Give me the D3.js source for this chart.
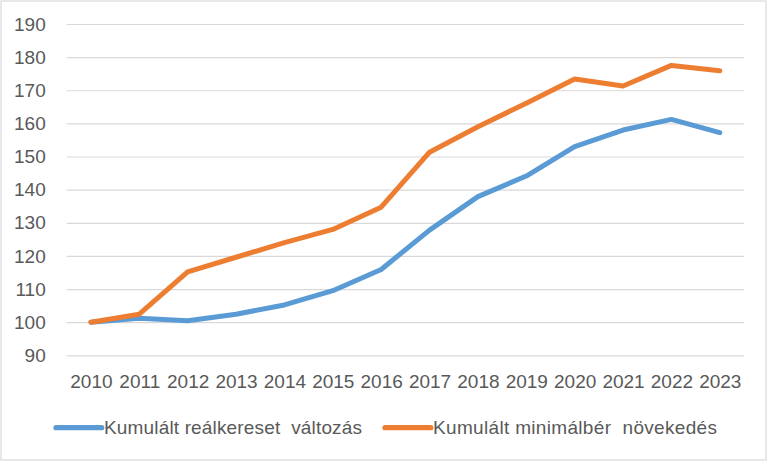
<!DOCTYPE html>
<html>
<head>
<meta charset="utf-8">
<script src="https://cdn.jsdelivr.net/npm/d3@7"></script>
<style>
  body { margin: 0; background: #fff; }
  text { font-family: "Liberation Sans", Arial, sans-serif; fill: #595959; }
</style>
</head>
<body>
<div id="chart"></div>
<script>
// data
var years = ["2010", "2011", "2012", "2013", "2014", "2015", "2016",
             "2017", "2018", "2019", "2020", "2021", "2022", "2023"];
var realWage = [100, 101.2, 100.4, 102.4, 105.2, 109.5, 115.9,
                127.8, 137.9, 144.1, 153.0, 158.0, 161.2, 157.2];
var minWage = [100, 102.4, 115.2, 119.6, 124.0, 128.0, 134.7,
               151.3, 159.0, 166.1, 173.4, 171.3, 177.5, 175.9];
var yTicks = [90, 100, 110, 120, 130, 140, 150, 160, 170, 180, 190];
var seriesNames = ["Kumulált reálkereset  változás", "Kumulált minimálbér  növekedés"];
var seriesColors = ["#5b9bd5", "#ed7d31"];

var svg = d3.select("#chart").append("svg")
    .attr("width", 768)
    .attr("height", 475);

// chart frame
svg.append("rect")
    .attr("x", 1)
    .attr("y", 1)
    .attr("width", 765)
    .attr("height", 459)
    .attr("fill", "#fff")
    .attr("stroke", "#d9d9d9")
    .attr("stroke-width", 1.2);

var x = d3.scalePoint()
    .domain(years)
    .range([66.7, 744])
    .padding(0.5);

var y = d3.scaleLinear()
    .domain([90, 190])
    .range([355.3, 24]);

// gridlines + y labels
var yAxis = svg.append("g")
    .attr("transform", "translate(66.7,0)")
    .call(d3.axisLeft(y).tickValues(yTicks).tickSize(-(744 - 66.7)).tickPadding(21));
yAxis.select(".domain").remove();
yAxis.selectAll("line")
    .attr("stroke", "#d9d9d9")
    .attr("stroke-width", 1.2);
yAxis.selectAll("text")
    .attr("font-size", 19)
    .attr("font-family", "Liberation Sans, Arial, sans-serif")
    .attr("fill", "#595959");

// x labels
var xAxis = svg.append("g")
    .attr("transform", "translate(0,355.3)")
    .call(d3.axisBottom(x).tickSize(0).tickPadding(19));
xAxis.select(".domain").remove();
xAxis.selectAll("text")
    .attr("font-size", 19)
    .attr("font-family", "Liberation Sans, Arial, sans-serif")
    .attr("fill", "#595959");

var line = d3.line()
    .x(function(d, i) { return x(years[i]); })
    .y(function(d) { return y(d); });

[realWage, minWage].forEach(function(vals, k) {
  svg.append("path")
      .datum(vals)
      .attr("d", line)
      .attr("fill", "none")
      .attr("stroke", seriesColors[k])
      .attr("stroke-width", 5)
      .attr("stroke-linejoin", "round")
      .attr("stroke-linecap", "round");
});

// legend
var legendX = [56, 385];
var legendW = [258, 284];
seriesNames.forEach(function(name, k) {
  svg.append("line")
      .attr("x1", legendX[k])
      .attr("y1", 427.7)
      .attr("x2", legendX[k] + 45.7)
      .attr("y2", 427.7)
      .attr("stroke", seriesColors[k])
      .attr("stroke-width", 5.3)
      .attr("stroke-linecap", "round");
  svg.append("text")
      .attr("x", legendX[k] + 48)
      .attr("y", 434)
      .attr("font-size", 19)
      .attr("textLength", legendW[k])
      .attr("lengthAdjust", "spacing")
      .attr("xml:space", "preserve")
      .style("white-space", "pre")
      .text(name);
});
</script>
</body>
</html>
